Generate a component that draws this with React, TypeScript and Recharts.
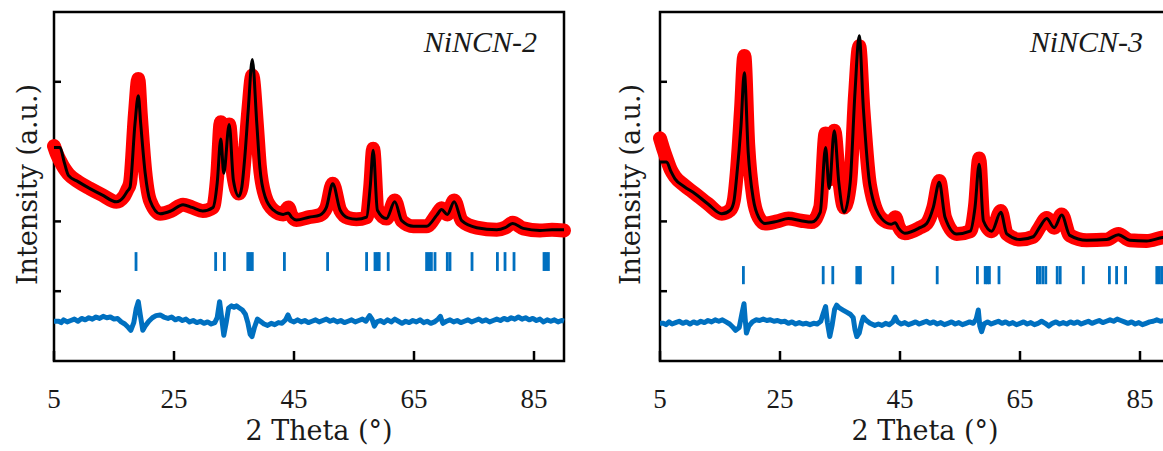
import React from 'react';
import { ComposedChart, Line, XAxis, YAxis, ReferenceArea, ReferenceLine, Label } from 'recharts';

const ticksX = [5, 25, 45, 65, 85];
const ticksY = [0, 1, 3];

// NiNCN-2 : observed (red) and calculated (black)
const n2Theta = [5, 5.5, 6, 6.7, 7.4, 9, 11, 13, 15.4, 16.6, 17.2, 17.67, 18.5, 19.05, 19.45, 20.2, 21, 22.7, 24.5, 26.5, 28, 29.8, 31.5, 32.2, 32.8, 33.3, 34.2, 34.9, 35.8, 36.3, 36.8, 37.4, 38.05, 38.8, 39.3, 40.2, 41.6, 43.2, 44.05, 44.6, 45.4, 47.5, 49.3, 50.4, 51.45, 52.7, 54, 55.4, 57.1, 57.7, 58.2, 58.9, 60.4, 61.8, 62.95, 64.9, 67.1, 68.8, 69.6, 70.55, 71.7, 72.95, 75.45, 78.8, 80.2, 81.45, 83.2, 86, 88, 90];
const n2Obs = [2.08, 1.96, 1.87, 1.76, 1.68, 1.57, 1.47, 1.38, 1.28, 1.35, 1.45, 1.55, 2.55, 3.04, 2.55, 1.72, 1.3, 1.11, 1.15, 1.24, 1.2, 1.15, 1.2, 1.65, 2.42, 1.85, 2.39, 1.65, 1.4, 1.5, 1.95, 2.6, 3.09, 2.4, 1.8, 1.36, 1.16, 1.1, 1.2, 1.08, 1.02, 1.06, 1.09, 1.2, 1.54, 1.16, 1.05, 1.03, 1.06, 1.49, 2.04, 1.18, 1.04, 1.3, 1.01, 0.93, 0.93, 1.1, 1.19, 1.1, 1.3, 1.01, 0.91, 0.88, 0.91, 0.98, 0.9, 0.87, 0.88, 0.87];
const n2Calc = [2.06, 2.06, 2.06, 1.85, 1.66, 1.57, 1.47, 1.38, 1.28, 1.35, 1.43, 1.49, 2.4, 2.8, 2.4, 1.69, 1.3, 1.11, 1.15, 1.24, 1.2, 1.15, 1.2, 1.55, 2.18, 1.69, 2.39, 1.59, 1.36, 1.49, 1.92, 2.63, 3.32, 2.4, 1.78, 1.35, 1.16, 1.1, 1.12, 1.06, 1.02, 1.06, 1.09, 1.2, 1.54, 1.16, 1.05, 1.03, 1.06, 1.49, 2.02, 1.16, 1.04, 1.28, 1.01, 0.93, 0.93, 1.09, 1.17, 1.1, 1.28, 1.01, 0.91, 0.88, 0.91, 0.97, 0.9, 0.87, 0.88, 0.88];

// NiNCN-2 : difference curve
const n2DiffTheta = [5, 5.8, 6.2, 6.6, 7.2, 7.8, 8.4, 9, 9.6, 10.2, 10.8, 11.4, 12, 12.6, 13.2, 13.8, 14.4, 15, 15.6, 16.2, 16.8, 17.4, 17.8, 18.3, 18.7, 19.05, 19.4, 19.8, 20.2, 20.8, 21.4, 22, 22.7, 23.3, 24, 24.6, 25.2, 25.8, 26.4, 27, 27.6, 28.2, 28.8, 29.4, 30, 30.6, 31.2, 31.8, 32.2, 32.6, 32.9, 33.3, 33.7, 34.1, 34.6, 35, 35.4, 35.9, 36.4, 36.9, 37.3, 37.7, 38, 38.4, 38.9, 39.4, 40, 40.6, 41.2, 41.8, 42.4, 43, 43.6, 44, 44.4, 45, 45.6, 46.2, 46.8, 47.4, 48, 48.6, 49.2, 49.8, 50.4, 51, 51.6, 52.2, 52.8, 53.4, 54, 54.6, 55.2, 55.8, 56.4, 57, 57.6, 58, 58.4, 58.8, 59.4, 60, 60.6, 61.2, 61.8, 62.4, 63, 63.6, 64.2, 64.8, 65.4, 66, 66.6, 67.2, 67.8, 68.4, 69, 69.4, 69.8, 70.4, 71, 71.6, 72.2, 72.8, 73.4, 74, 74.6, 75.2, 75.8, 76.4, 77, 77.6, 78.2, 78.8, 79.4, 80, 80.6, 81.2, 81.8, 82.4, 83, 83.6, 84.2, 84.8, 85.4, 86, 86.6, 87.2, 87.8, 88.4, 89, 89.6, 90];
const n2Diff = [-0.43, -0.43, -0.45, -0.41, -0.44, -0.42, -0.4, -0.43, -0.39, -0.41, -0.38, -0.4, -0.37, -0.39, -0.36, -0.38, -0.37, -0.4, -0.39, -0.44, -0.47, -0.52, -0.56, -0.45, -0.25, -0.15, -0.35, -0.56, -0.5, -0.43, -0.38, -0.35, -0.34, -0.37, -0.39, -0.37, -0.41, -0.39, -0.42, -0.4, -0.44, -0.42, -0.45, -0.43, -0.46, -0.44, -0.47, -0.45, -0.38, -0.15, -0.35, -0.63, -0.45, -0.24, -0.21, -0.23, -0.21, -0.24, -0.27, -0.33, -0.45, -0.62, -0.65, -0.52, -0.4, -0.43, -0.47, -0.49, -0.46, -0.48, -0.45, -0.46, -0.41, -0.34, -0.42, -0.44, -0.41, -0.44, -0.42, -0.45, -0.43, -0.41, -0.44, -0.42, -0.4, -0.43, -0.41, -0.44, -0.42, -0.45, -0.43, -0.41, -0.44, -0.42, -0.4, -0.43, -0.35, -0.4, -0.5, -0.44, -0.42, -0.45, -0.41, -0.44, -0.4, -0.43, -0.46, -0.43, -0.45, -0.42, -0.44, -0.41, -0.45, -0.43, -0.46, -0.44, -0.4, -0.36, -0.46, -0.43, -0.41, -0.44, -0.42, -0.45, -0.43, -0.41, -0.44, -0.42, -0.4, -0.43, -0.41, -0.44, -0.42, -0.4, -0.42, -0.39, -0.41, -0.38, -0.4, -0.37, -0.4, -0.38, -0.41, -0.39, -0.42, -0.4, -0.44, -0.41, -0.43, -0.41, -0.44, -0.42, -0.43];

// NiNCN-2 : Bragg positions
const n2Bragg = [18.67, 31.94, 33.4, 37.3, 37.67, 38.05, 43.4, 50.6, 57.1, 58.5, 58.9, 59.2, 60.7, 67.1, 67.55, 67.9, 68.5, 70.55, 71, 74.67, 78.9, 80.17, 81.67, 86.67, 87, 87.4];

// NiNCN-3 : observed (red) and calculated (black)
const n3Theta = [5, 5.5, 6.1, 6.8, 7.5, 9, 10.8, 13, 15.3, 16.7, 17.3, 17.8, 18.5, 19.05, 19.7, 20.55, 21.5, 22.5, 24.5, 26.4, 28.5, 30.3, 31.7, 32.6, 33.2, 34.05, 34.8, 35.7, 36.7, 37.5, 38.2, 38.9, 40, 41.95, 43.5, 44.2, 44.8, 45.8, 48.3, 49.45, 50.55, 51.55, 52.5, 54.45, 56.7, 57.5, 58.2, 58.9, 60.3, 61.8, 62.8, 65, 67.2, 68.3, 69.45, 70.7, 71.95, 73.3, 76.1, 79.45, 81.4, 83.3, 86.1, 88.8, 90];
const n3Obs = [2.19, 2.05, 1.9, 1.74, 1.64, 1.52, 1.4, 1.25, 1.11, 1.16, 1.3, 1.7, 2.6, 3.37, 2.1, 1.34, 1.05, 0.97, 1, 1.04, 1.01, 0.99, 1.2, 2.26, 1.6, 2.3, 1.65, 1.2, 1.56, 2.8, 3.51, 2.6, 1.52, 1.04, 0.98, 1.06, 0.92, 0.83, 0.91, 0.97, 1.2, 1.58, 1.06, 0.82, 0.86, 1.22, 1.9, 1.03, 0.86, 1.15, 0.82, 0.74, 0.78, 0.92, 1.05, 0.91, 1.1, 0.8, 0.73, 0.74, 0.82, 0.73, 0.72, 0.77, 0.78];
const n3Calc = [1.85, 1.85, 1.85, 1.72, 1.61, 1.5, 1.4, 1.25, 1.11, 1.16, 1.28, 1.66, 2.37, 3.13, 1.99, 1.32, 1.05, 0.97, 1, 1.04, 1.01, 0.99, 1.13, 2.06, 1.47, 2.3, 1.56, 1.13, 1.56, 2.85, 3.66, 2.61, 1.51, 1.04, 0.96, 0.98, 0.9, 0.83, 0.91, 0.97, 1.2, 1.56, 1.06, 0.82, 0.86, 1.2, 1.82, 1.01, 0.86, 1.13, 0.82, 0.74, 0.78, 0.92, 1.04, 0.91, 1.09, 0.8, 0.73, 0.74, 0.81, 0.73, 0.72, 0.77, 0.78];

// NiNCN-3 : difference curve
const n3DiffTheta = [5, 5.6, 6, 6.5, 7, 7.6, 8.2, 8.8, 9.4, 10, 10.6, 11.2, 11.8, 12.4, 13, 13.6, 14.2, 14.8, 15.4, 16, 16.6, 17.2, 17.6, 18.2, 18.7, 19, 19.2, 19.4, 19.8, 20.4, 21, 21.6, 22.2, 22.8, 23.4, 24, 24.6, 25.2, 25.8, 26.4, 27, 27.6, 28.2, 28.8, 29.4, 30, 30.6, 31.2, 31.8, 32.2, 32.6, 32.9, 33.3, 33.7, 34.1, 34.45, 34.9, 35.5, 36.1, 36.7, 37.2, 37.5, 37.8, 38.2, 38.6, 38.9, 39.4, 40, 40.8, 41.4, 42, 42.6, 43.2, 43.8, 44.2, 44.6, 45.2, 45.8, 46.4, 47, 47.6, 48.2, 48.8, 49.4, 50, 50.6, 51.2, 51.8, 52.4, 53, 53.6, 54.2, 54.8, 55.4, 56, 56.6, 57.2, 57.7, 58.05, 58.3, 58.6, 59, 59.6, 60.2, 60.8, 61.4, 62, 62.6, 63.2, 63.8, 64.4, 65, 65.6, 66.2, 66.8, 67.4, 68, 68.6, 69.2, 69.8, 70.4, 71, 71.6, 72.2, 72.8, 73.4, 74, 74.6, 75.2, 75.8, 76.4, 77, 77.6, 78.2, 78.8, 79.4, 80, 80.6, 81.2, 81.8, 82.4, 83, 83.6, 84.2, 84.8, 85.4, 86, 86.6, 87.2, 87.8, 88.4, 89, 90];
const n3Diff = [-0.46, -0.46, -0.48, -0.44, -0.47, -0.45, -0.43, -0.46, -0.44, -0.47, -0.44, -0.46, -0.43, -0.45, -0.42, -0.44, -0.41, -0.43, -0.41, -0.44, -0.47, -0.52, -0.56, -0.52, -0.3, -0.18, -0.4, -0.6, -0.5, -0.44, -0.41, -0.42, -0.4, -0.42, -0.41, -0.43, -0.42, -0.44, -0.43, -0.46, -0.44, -0.47, -0.45, -0.47, -0.46, -0.48, -0.46, -0.47, -0.43, -0.32, -0.22, -0.45, -0.65, -0.48, -0.26, -0.2, -0.24, -0.27, -0.3, -0.33, -0.38, -0.55, -0.65, -0.6, -0.45, -0.37, -0.42, -0.46, -0.49, -0.47, -0.49, -0.46, -0.48, -0.44, -0.37, -0.44, -0.47, -0.45, -0.48, -0.46, -0.44, -0.47, -0.45, -0.43, -0.46, -0.44, -0.47, -0.45, -0.48, -0.46, -0.44, -0.47, -0.45, -0.48, -0.46, -0.44, -0.46, -0.4, -0.27, -0.5, -0.58, -0.47, -0.44, -0.47, -0.45, -0.43, -0.46, -0.44, -0.47, -0.45, -0.48, -0.46, -0.44, -0.47, -0.45, -0.48, -0.46, -0.43, -0.46, -0.5, -0.46, -0.44, -0.47, -0.45, -0.47, -0.44, -0.46, -0.44, -0.47, -0.45, -0.43, -0.46, -0.44, -0.42, -0.45, -0.43, -0.41, -0.43, -0.4, -0.42, -0.44, -0.46, -0.44, -0.47, -0.45, -0.48, -0.46, -0.44, -0.43, -0.41, -0.43, -0.42, -0.43];

// NiNCN-3 : Bragg positions
const n3Bragg = [18.9, 32.2, 33.8, 37.8, 38.2, 38.4, 43.8, 51.2, 57.9, 59.2, 59.55, 59.9, 61.5, 67.9, 68.3, 68.8, 69.3, 71.2, 71.7, 75.55, 79.9, 81.1, 82.6, 87.8, 88.2, 88.6];

const BLUE = '#0070C0';
const TEXT = '#1a1a1a';

const toPoints = (xs: number[], ys: number[]) => xs.map((x, i) => ({ x, y: ys[i] }));

const XTick = ({ x, y, payload }: any) => (
  <g>
    <line x1={x} x2={x} y1={y} y2={y - 10} stroke="#000" strokeWidth={2.5} />
    <text x={x} y={y + 47} textAnchor="middle" fontFamily="'Liberation Serif', serif" fontSize={27} fill={TEXT}>
      {payload.value}
    </text>
  </g>
);

const YTick = ({ x, y }: any) => (
  <line x1={x} x2={x + 7} y1={y} y2={y} stroke="#000" strokeWidth={2.5} />
);

const XLabel = ({ viewBox }: any) => (
  <text x={viewBox.x + viewBox.width / 2 + 10} y={viewBox.y + 79} textAnchor="middle"
    fontFamily="'DejaVu Serif', serif" fontSize={27} fill={TEXT}>2 Theta (°)</text>
);

const YLabel = ({ viewBox }: any) => {
  const cx = viewBox.x + viewBox.width / 2;
  const cy = viewBox.y + viewBox.height / 2 - 2;
  return (
    <text x={cx} y={cy} transform={`rotate(-90 ${cx} ${cy})`} textAnchor="middle" dominantBaseline="central"
      fontFamily="'DejaVu Serif', serif" fontSize={27} fill={TEXT}>Intensity (a.u.)</text>
  );
};

type PanelProps = {
  title: string;
  theta: number[];
  obs: number[];
  calc: number[];
  diffTheta: number[];
  diff: number[];
  bragg: number[];
  braggRow: [number, number];
  axisWidth: number;
  width: number;
};

const Panel = ({ title, theta, obs, calc, diffTheta, diff, bragg, braggRow, axisWidth, width }: PanelProps) => {
  const obsData = toPoints(theta, obs);
  const calcData = toPoints(theta, calc);
  const diffData = toPoints(diffTheta, diff);
  return (
    <ComposedChart width={width} height={451} margin={{ top: 12, right: 36, bottom: 0, left: 0 }}>
      <XAxis type="number" dataKey="x" domain={[5, 90]} ticks={ticksX} height={90}
        axisLine={false} tickLine={false} tickSize={0} tickMargin={0} tick={<XTick />} interval={0}>
        <Label content={<XLabel />} />
      </XAxis>
      <YAxis type="number" dataKey="y" domain={[-1, 4]} ticks={ticksY} width={axisWidth}
        axisLine={false} tickLine={false} tickSize={0} tickMargin={0} tick={<YTick />} interval={0}>
        <Label content={<YLabel />} />
      </YAxis>
      <Line data={obsData} dataKey="y" type="monotone" stroke="#ff0000" strokeWidth={14}
        strokeLinecap="round" strokeLinejoin="round" dot={false} isAnimationActive={false} />
      <Line data={calcData} dataKey="y" type="monotone" stroke="#000" strokeWidth={3}
        dot={false} isAnimationActive={false} />
      <Line data={diffData} dataKey="y" type="linear" stroke={BLUE} strokeWidth={5}
        strokeLinejoin="round" dot={false} isAnimationActive={false} />
      {bragg.map((t, i) => (
        <ReferenceLine key={`b-${i}`} segment={[{ x: t, y: braggRow[0] }, { x: t, y: braggRow[1] }]}
          stroke={BLUE} strokeWidth={2.8} ifOverflow="visible" />
      ))}
      <ReferenceArea x1={5} x2={90} y1={-1} y2={4} fill="none" stroke="#000" strokeWidth={2.5} ifOverflow="visible">
        <Label content={({ viewBox }: any) => (
          <text x={viewBox.x + viewBox.width - 27} y={viewBox.y + 40} textAnchor="end"
            fontFamily="'Liberation Serif', serif" fontStyle="italic" fontSize={30} fill={TEXT}>{title}</text>
        )} />
      </ReferenceArea>
    </ComposedChart>
  );
};

export default function App() {
  return (
    <div style={{ position: 'fixed', left: 0, top: 0, width: 1163, height: 451, overflow: 'hidden', background: '#fff' }}>
      <div style={{ position: 'absolute', left: 0, top: 0 }}>
        <Panel title="NiNCN-2" theta={n2Theta} obs={n2Obs} calc={n2Calc} diffTheta={n2DiffTheta} diff={n2Diff}
          bragg={n2Bragg} braggRow={[0.29, 0.56]} axisWidth={54} width={600} />
      </div>
      <div style={{ position: 'absolute', left: 600, top: 0 }}>
        <Panel title="NiNCN-3" theta={n3Theta} obs={n3Obs} calc={n3Calc} diffTheta={n3DiffTheta} diff={n3Diff}
          bragg={n3Bragg} braggRow={[0.1, 0.36]} axisWidth={60} width={606} />
      </div>
    </div>
  );
}
